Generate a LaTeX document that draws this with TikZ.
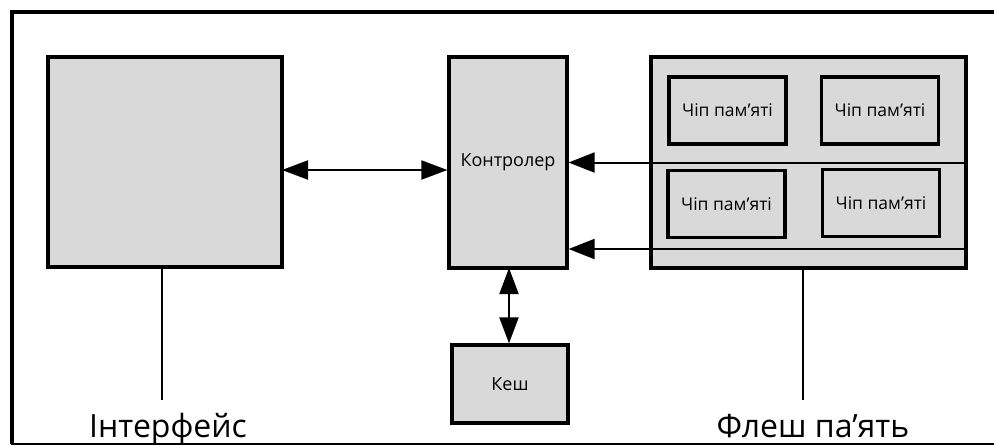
\documentclass[tikz,border=0pt]{standalone}
\usepackage{fontspec}
\setmainfont{Open Sans}
\usetikzlibrary{arrows.meta}
\definecolor{boxgray}{HTML}{D9D9D9}
\begin{document}
\begin{tikzpicture}[x=1pt,y=-1pt,
  blk/.style={draw=black,fill=boxgray,line width=3.2pt,rectangle,inner sep=0pt},
  chip/.style={blk,minimum width=117pt,minimum height=67pt,font=\fontsize{17.5}{20}\selectfont},
  arrtwo/.style={line width=2pt,{Triangle[length=26pt,width=19pt]}-{Triangle[length=26pt,width=19pt]}},
  arrone/.style={line width=2pt,-{Triangle[length=26pt,width=20pt]}},
  lead/.style={line width=2pt},
  biglabel/.style={font=\fontsize{32}{36}\selectfont,anchor=base,inner sep=0pt}]
\useasboundingbox (0,0) rectangle (994,445);
% outer frame (left, top, bottom)
\draw[line width=3.5pt] (994,12) -- (12,12) -- (12,443.5);
\draw[line width=2pt] (11,443.5) -- (994,443.5);
% blocks
\node[blk,minimum width=234pt,minimum height=210pt] (iface) at (165,162) {};
\node[blk,minimum width=118pt,minimum height=211pt,font=\fontsize{18}{20}\selectfont] (ctrl) at (508,162.5) {Контролер};
\node[blk,minimum width=116pt,minimum height=78pt,font=\fontsize{18}{20}\selectfont] (kesh) at (510,384) {Кеш};
\node[blk,minimum width=315pt,minimum height=211pt] (flash) at (808.5,162.5) {};
% chips
\node[chip] (c1) at (727.5,110.5) {Чіп пам’яті};
\node[chip] (c2) at (880,110.5) {Чіп пам’яті};
\node[chip] (c3) at (726.5,204) {Чіп пам’яті};
\node[chip] (c4) at (881,203) {Чіп пам’яті};
% connectors
\coordinate (ia) at (282,170);
\draw[arrtwo] (ia) -- (ia -| ctrl.west);
\coordinate (r1) at (966,162.5);
\draw[arrone] (r1) -- (ctrl.east);
\coordinate (r2) at (966,249);
\draw[arrone] (r2) -- (r2 -| ctrl.east);
\coordinate (kv) at (509,268);
\draw[arrtwo] (kv) -- (kv |- kesh.north);
% label leads
\coordinate (il) at (162,400);
\draw[lead] (il |- iface.south) -- (il);
\coordinate (fl) at (803,400);
\draw[lead] (fl |- flash.south) -- (fl);
\node[biglabel] (ilab) at (168,437) {Інтерфейс};
\node[biglabel] (flab) at (813,437) {Флеш па’ять};
\end{tikzpicture}
\end{document}
